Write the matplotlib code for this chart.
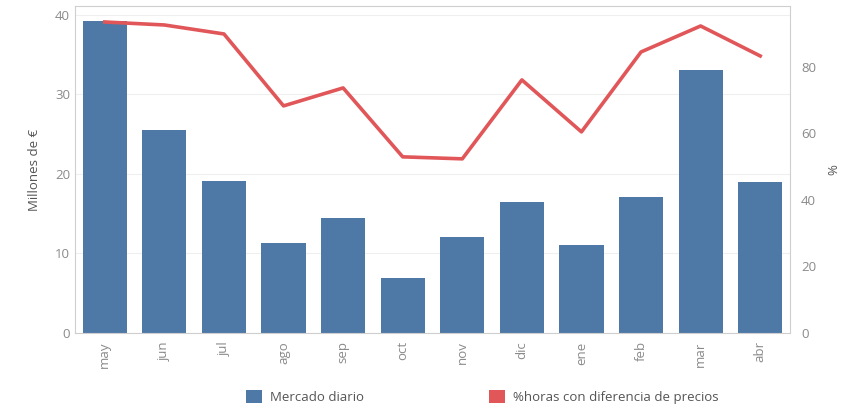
import numpy as np
import matplotlib.pyplot as plt
from matplotlib.patches import Patch

months = ['may', 'jun', 'jul', 'ago', 'sep', 'oct', 'nov', 'dic', 'ene', 'feb', 'mar', 'abr']
mercado = [39.2, 25.5, 19.1, 11.3, 14.5, 6.9, 12.1, 16.5, 11.1, 17.1, 33.0, 19.0]
pct_horas = [93.4, 92.5, 89.8, 68.2, 73.6, 52.9, 52.3, 76.0, 60.4, 84.4, 92.2, 83.2]

BLUE = '#4e79a7'
RED = '#e15759'
GREY = '#8a8a8a'

plt.rcParams['font.family'] = ['Open Sans', 'DejaVu Sans']

fig = plt.figure(figsize=(8.44, 4.07), dpi=100)
ax1 = fig.add_axes([75 / 844, 1 - 333 / 407, (790 - 75) / 844, (333 - 6) / 407])
x = np.arange(len(months))

ax1.bar(x, mercado, width=0.74, color=BLUE, zorder=2)
ax1.set_xlim(-0.5, len(months) - 0.5)
ax1.set_ylim(0, 41.1)
ax1.set_yticks([0, 10, 20, 30, 40])
ax1.grid(axis='y', color='#efefef', linewidth=0.8, zorder=0)
ax1.set_xticks(x)
ax1.set_xticklabels(months, rotation=90)
ax1.tick_params(axis='both', length=0, colors=GREY, labelsize=9.5)
ax1.tick_params(axis='x', pad=6)
ax1.set_ylabel('Millones de €', color='#555555', fontsize=9.5, labelpad=10)
for s in ['left', 'bottom', 'top']:
    ax1.spines[s].set_color('#cfcfcf')
ax1.spines['right'].set_visible(False)

ax2 = ax1.twinx()
ax2.plot(x, pct_horas, color=RED, linewidth=2.6, zorder=3)
ax2.set_ylim(0, 98.2)
ax2.set_yticks([0, 20, 40, 60, 80])
ax2.tick_params(axis='y', length=0, colors=GREY, labelsize=9.5, pad=8)
ax2.set_ylabel('%', color='#555555', fontsize=9.5, labelpad=8)
for s in ['left', 'bottom', 'top']:
    ax2.spines[s].set_visible(False)
ax2.spines['right'].set_color('#cfcfcf')

handles = [Patch(facecolor=BLUE, edgecolor='none'),
           Patch(facecolor=RED, edgecolor='none')]
fig.legend(handles, ['Mercado diario', '%horas con diferencia de precios'],
           loc='center', bbox_to_anchor=(482 / 844, 1 - 397 / 407), ncol=2, frameon=False,
           fontsize=9.5, labelcolor='#555555', handlelength=1.2, handleheight=1.2,
           columnspacing=9.5, handletextpad=0.6)

fig.savefig('out.png', dpi=100)
